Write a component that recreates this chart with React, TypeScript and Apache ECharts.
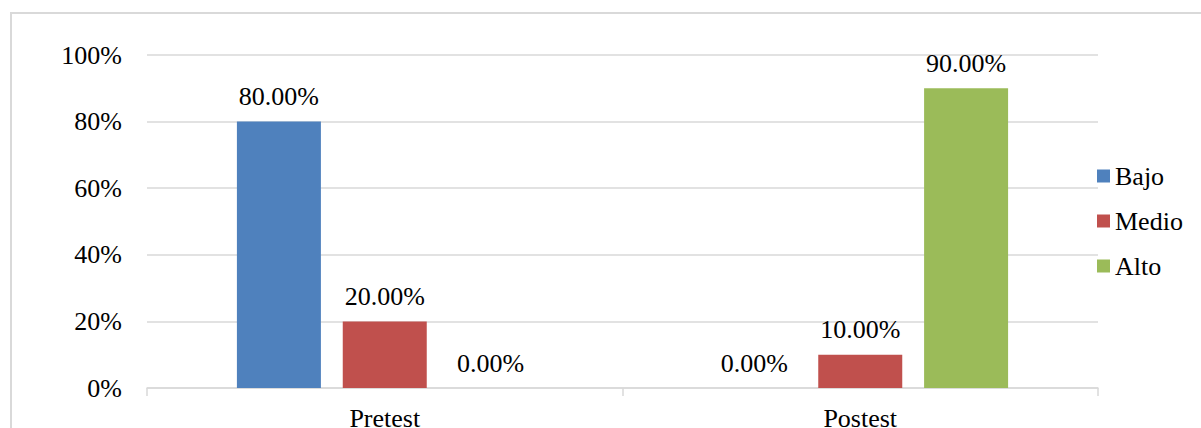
import React, { useEffect, useRef } from "react";
import * as echarts from "echarts";

const categories = ["Pretest", "Postest"];
const seriesNames = ["Bajo", "Medio", "Alto"];
const bajoValues = [80, 0];
const medioValues = [20, 10];
const altoValues = [0, 90];
const seriesColors = ["#4F81BD", "#C0504D", "#9BBB59"];

const FONT = "Times New Roman, Liberation Serif, serif";

export default function App() {
  const ref = useRef<HTMLDivElement>(null);

  useEffect(() => {
    if (!ref.current) return;
    const chart = echarts.init(ref.current, null, { renderer: "svg" });
    const valueSets = [bajoValues, medioValues, altoValues];

    chart.setOption({
      animation: false,
      backgroundColor: "#ffffff",
      textStyle: { fontFamily: FONT },
      graphic: [
        {
          type: "rect",
          shape: { x: 11, y: 13, width: 1400, height: 600 },
          style: { fill: "none", stroke: "#d9d9d9", lineWidth: 2 },
          silent: true,
          z: -1,
        },
      ],
      grid: {
        left: 147,
        right: 103,
        top: 55,
        bottom: 40,
        containLabel: false,
        outerBoundsMode: "none",
      },
      legend: {
        orient: "vertical",
        left: 1092,
        top: 158,
        itemWidth: 13,
        itemHeight: 13,
        itemGap: 19,
        icon: "rect",
        textStyle: { fontFamily: FONT, fontSize: 26, color: "#000" },
        data: seriesNames,
      },
      xAxis: {
        type: "category",
        data: categories,
        axisLine: { lineStyle: { color: "#d9d9d9", width: 1.5 } },
        axisTick: { show: true, length: 8, lineStyle: { color: "#d9d9d9", width: 1.5 } },
        axisLabel: { fontFamily: FONT, fontSize: 26, color: "#000", margin: 17 },
      },
      yAxis: {
        type: "value",
        min: 0,
        max: 100,
        interval: 20,
        axisLine: { show: false },
        axisTick: { show: false },
        splitLine: { lineStyle: { color: "#d9d9d9", width: 1.5 } },
        axisLabel: {
          fontFamily: FONT,
          fontSize: 26,
          color: "#000",
          margin: 25,
          formatter: "{value}%",
        },
      },
      series: seriesNames.map((name, i) => ({
        name,
        type: "bar",
        data: valueSets[i],
        barWidth: 84,
        barGap: "26%",
        itemStyle: { color: seriesColors[i] },
        label: {
          show: true,
          position: "top",
          distance: 12,
          fontFamily: FONT,
          fontSize: 26,
          color: "#000",
          formatter: (p: any) => `${Number(p.value).toFixed(2)}%`,
        },
      })),
    });

    return () => chart.dispose();
  }, []);

  return (
    <div
      ref={ref}
      style={{ position: "absolute", left: 0, top: 0, width: 1201, height: 428 }}
    />
  );
}
